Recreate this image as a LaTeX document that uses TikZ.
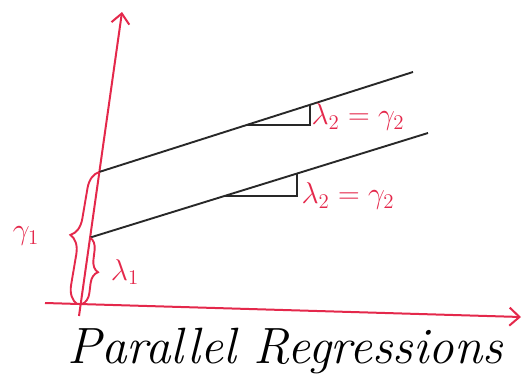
\documentclass[tikz,border=0pt]{standalone}
\usepackage{graphicx}
\usetikzlibrary{arrows.meta,calc,decorations.pathreplacing}
\definecolor{penred}{RGB}{228,40,75}
\definecolor{penblack}{RGB}{40,40,40}
\newcommand{\biglab}[1]{\scalebox{1.45}{\huge$#1$}}
\begin{document}
\begin{tikzpicture}[x=1pt,y=-1pt,
  axis/.style={penred,line width=2pt,-{Straight Barb[length=10pt,width=18pt]}},
  reg/.style={penblack,line width=1.9pt},
  curly/.style={penred,line width=1.9pt,decorate,decoration={brace,amplitude=#1}},
  lab/.style={penred}]
\useasboundingbox (0,0) rectangle (523,383);
% axes
\coordinate (ybot) at (79,316);
\coordinate (ytop) at (122,12);
\coordinate (xleft) at (45,303);
\coordinate (xright) at (521,317);
\draw[axis] (ybot) -- (ytop);
\draw[axis] (xleft) -- (xright);

% the two regression lines
\coordinate (a1) at ($(ybot)!0.474!(ytop)$);
\coordinate (a2) at ($(ybot)!0.258!(ytop)$);
\coordinate (b1) at (413,72);
\coordinate (b2) at (428,133);
\draw[reg] (a1) -- (b1);
\draw[reg] (a2) -- (b2);

% slope triangles
\coordinate (t1) at ($(a1)!0.47!(b1)$);
\coordinate (u1) at ($(a1)!0.673!(b1)$);
\coordinate (t2) at ($(a2)!0.40!(b2)$);
\coordinate (u2) at ($(a2)!0.611!(b2)$);
\draw[reg] (t1) -- (u1 |- t1) -- (u1);
\draw[reg] (t2) -- (u2 |- t2) -- (u2);
\node[lab,anchor=west] (s1) at (308,117) {\biglab{\lambda_2=\gamma_2}};
\node[lab,anchor=west] (s2) at (298,196) {\biglab{\lambda_2=\gamma_2}};

% intercepts
\draw[curly=18pt] (77,304) -- (a1);
\draw[curly=12pt] (a2) -- (82,304);
\node[lab] (g1) at (26,236) {\biglab{\gamma_1}};
\node[lab] (l1) at (125,272) {\biglab{\lambda_1}};

\node[font=\fontsize{51}{56}\selectfont\itshape] (title) at (285,351) {Parallel Regressions};
\end{tikzpicture}
\end{document}
